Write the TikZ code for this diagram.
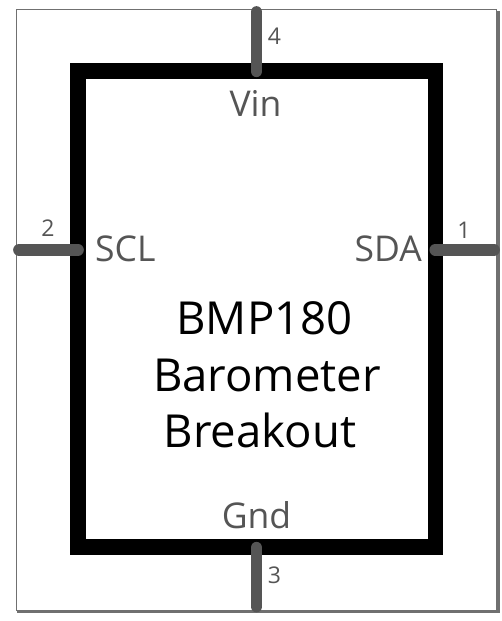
\documentclass[tikz,border=0pt]{standalone}
\usepackage{fontspec}
\setmainfont{Open Sans}
\definecolor{pingray}{HTML}{555555}
\definecolor{framegray}{HTML}{707070}
\begin{document}
\begin{tikzpicture}[x=1pt,y=-1pt,
  pinline/.style={draw=pingray,line width=11.7pt,line cap=round},
  pinname/.style={text=pingray,font=\fontsize{35.5}{35.5}\selectfont,inner sep=0pt},
  pinnum/.style={text=pingray,font=\fontsize{23}{23}\selectfont,inner sep=0pt},
  title/.style={text=black,font=\fontsize{45.5}{45.5}\selectfont,inner sep=0pt}]
\useasboundingbox (0,0) rectangle (502,621);
\fill[white] (0,0) rectangle (502,621);
\draw[framegray,line width=1pt] (16,9.5) -- (497,9.5);
\draw[framegray,line width=1pt] (16.5,9.5) -- (16.5,611);
\draw[framegray,line width=1pt] (496.5,9.5) -- (496.5,611);
\fill[framegray] (496.5,11) rectangle (500,613);
\fill[framegray] (17,610) rectangle (500,613);
\node[draw=black,line width=15.5pt,minimum width=357.5pt,minimum height=476pt,inner sep=0pt,anchor=center] (body) at (256.5,309) {};
\coordinate (p4o) at (256.5,12); \coordinate (p4i) at (256.5,71.3);
\coordinate (p3o) at (256.5,606.5); \coordinate (p3i) at (256.5,547.7);
\coordinate (p2o) at (19,249.8); \coordinate (p2i) at (78,249.8);
\coordinate (p1o) at (494,249.8); \coordinate (p1i) at (435.3,249.8);
\draw[pinline] (p4o) -- (p4i);
\draw[pinline] (p3o) -- (p3i);
\draw[pinline] (p2o) -- (p2i);
\draw[pinline] (p1o) -- (p1i);
\node[pinnum,anchor=base] (n4) at (274.5,44) {4};
\node[pinnum,anchor=base] (n3) at (274.5,583) {3};
\node[pinnum,anchor=base] (n2) at (48,236) {2};
\node[pinnum,anchor=base] (n1) at (464,238) {1};
\node[pinname,anchor=base] (vin) at (255.5,116) {Vin};
\node[pinname,anchor=base] (gnd) at (256.5,528) {Gnd};
\node[pinname,anchor=base west] (scl) at (95,261) {SCL};
\node[pinname,anchor=base east] (sda) at (422,261) {SDA};
\node[title,anchor=base] (t1) at (264.5,334) {BMP180};
\node[title,anchor=base] (t2) at (267,391) {Barometer};
\node[title,anchor=base] (t3) at (260,447) {Breakout};
\end{tikzpicture}
\end{document}
